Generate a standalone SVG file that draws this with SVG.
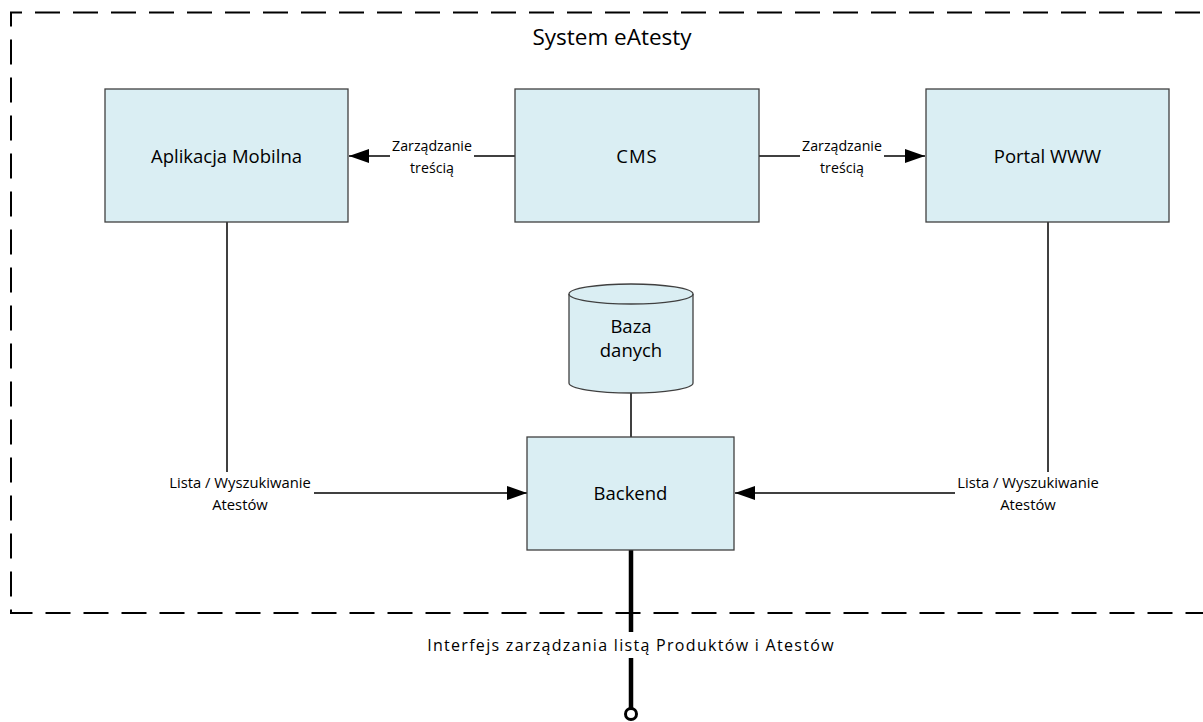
<svg xmlns="http://www.w3.org/2000/svg" width="1203" height="722" viewBox="0 0 1203 722">
<style>
.box{fill:#DAEEF3;stroke:#404040;stroke-width:1.3}
.t{font-family:"Open Sans","Liberation Sans",sans-serif;fill:#000;text-anchor:middle}
.node{font-size:18.5px}
.lbl{font-size:14.2px}
.lst{font-size:14.8px}
.ln{stroke:#000;stroke-width:1.5;fill:none}
</style>
<defs>
<marker id="arr" viewBox="0 0 20 14" refX="20" refY="7" markerWidth="20" markerHeight="14" markerUnits="userSpaceOnUse" orient="auto">
<path d="M0,0 L20,7 L0,14 Z" fill="#000"/>
</marker>
</defs>
<rect x="0" y="0" width="1203" height="722" fill="#fff"/>
<g id="frame">
<path d="M1215,12.5 L11,12.5 L11,613 L1215,613" fill="none" stroke="#000" stroke-width="2" stroke-dasharray="25 13" stroke-dashoffset="-15"/>
<text class="t" x="612" y="45" font-size="22.5">System eAtesty</text>
</g>
<g id="connectors">
<line class="ln" x1="515" y1="156" x2="349" y2="156" marker-end="url(#arr)"/>
<line class="ln" x1="759" y1="156" x2="925" y2="156" marker-end="url(#arr)"/>
<polyline class="ln" points="227,222 227,472"/>
<line class="ln" x1="314" y1="493" x2="527" y2="493" marker-end="url(#arr)"/>
<polyline class="ln" points="1048,222 1048,472"/>
<line class="ln" x1="955" y1="493" x2="735" y2="493" marker-end="url(#arr)"/>
<line class="ln" x1="631" y1="392" x2="631" y2="437"/>
<line x1="631" y1="550" x2="631" y2="708" stroke="#000" stroke-width="4.5"/>
<circle cx="631" cy="714" r="5.5" fill="#fff" stroke="#000" stroke-width="3"/>
<rect x="390" y="150" width="84" height="12" fill="#fff"/>
<text class="t lbl" x="432" y="151">Zarządzanie</text>
<text class="t lbl" x="432" y="173">treścią</text>
<rect x="800" y="150" width="84" height="12" fill="#fff"/>
<text class="t lbl" x="842" y="151">Zarządzanie</text>
<text class="t lbl" x="842" y="173">treścią</text>
<text class="t lst" x="240" y="488">Lista / Wyszukiwanie</text>
<text class="t lst" x="240" y="510">Atestów</text>
<text class="t lst" x="1028" y="488">Lista / Wyszukiwanie</text>
<text class="t lst" x="1028" y="510">Atestów</text>
<rect x="424" y="632" width="414" height="26" fill="#fff"/>
<text class="t" x="631" y="651" font-size="16" letter-spacing="1.3">Interfejs zarządzania listą Produktów i Atestów</text>
</g>
<g id="aplikacja">
<rect class="box" x="105" y="89" width="243" height="133"/>
<text class="t node" x="226.5" y="163">Aplikacja Mobilna</text>
</g>
<g id="cms">
<rect class="box" x="515" y="89" width="244" height="133"/>
<text class="t node" x="637" y="163" letter-spacing="1">CMS</text>
</g>
<g id="portal">
<rect class="box" x="926" y="89" width="243" height="133"/>
<text class="t node" x="1047.5" y="163">Portal WWW</text>
</g>
<g id="baza">
<path class="box" d="M569,294 L569,383 A62,10 0 0 0 693,383 L693,294 A62,10 0 0 0 569,294 Z"/>
<path d="M569,294 A62,10 0 0 0 693,294" fill="none" stroke="#404040" stroke-width="1.3"/>
<text class="t node" x="631" y="333">Baza</text>
<text class="t node" x="631" y="357">danych</text>
</g>
<g id="backend">
<rect class="box" x="527" y="437" width="207" height="113"/>
<text class="t node" x="630.5" y="500">Backend</text>
</g>
</svg>
